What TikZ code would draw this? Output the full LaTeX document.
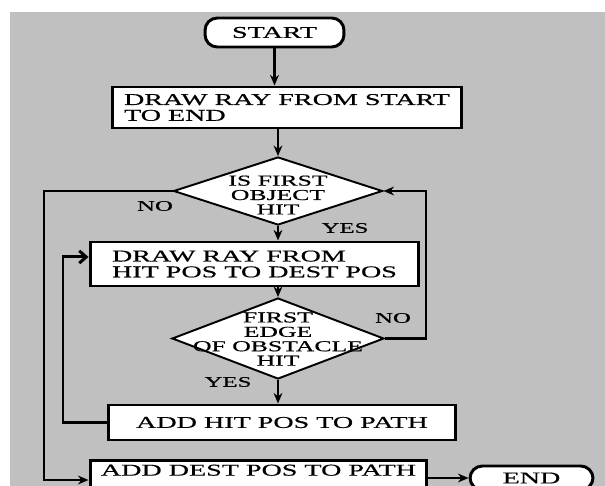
\documentclass[tikz,border=0pt]{standalone}
\usepackage{fontspec}
\newfontfamily\chartfont[FakeStretch=1.7,FakeBold=0.6]{Liberation Serif}
\usetikzlibrary{arrows.meta,shapes.geometric}
\definecolor{bggray}{RGB}{192,192,192}
\tikzset{
  box/.style={draw,line width=1.7pt,fill=white,rectangle,inner sep=0pt,align=left,font=\fontsize{9.4}{9}\chartfont},
  term/.style={box,rounded corners=7pt,align=center},
  dec/.style={draw,line width=1.1pt,fill=white,diamond,inner sep=0pt},
  dectext/.style={inner sep=0pt,align=center,font=\fontsize{8.6}{8.2}\chartfont},
  lab/.style={inner sep=0pt,font=\fontsize{8.3}{9}\chartfont},
  conn/.style={line width=1.7pt,-{Stealth[length=6pt,width=5pt]}},
}
\begin{document}
\begin{tikzpicture}[x=0.02cm,y=-0.02cm]

\useasboundingbox (0,0) rectangle (605,486);
\clip (0,0) rectangle (605,486);
\fill[bggray] (10,12) rectangle (605,486);

\node[term,minimum width=2.78cm,minimum height=0.58cm](start) at (274.5,32.5) {START};

\node[box,minimum width=7cm,minimum height=0.82cm](box1) at (287,107.5) {DRAW RAY FROM START\\TO END};

\node[dec,minimum width=4.18cm,minimum height=1.36cm](d1) at (278,191) {};
\node[dectext](d1t) at (278,195) {IS FIRST\\OBJECT\\HIT};

\node[box,minimum width=6.58cm,minimum height=0.88cm](box2) at (254.5,264) {DRAW RAY FROM\\HIT POS TO DEST POS};

\node[dec,minimum width=4.24cm,minimum height=1.62cm](d2) at (278,338.5) {};
\node[dectext](d2t) at (278,339) {FIRST\\EDGE\\OF OBSTACLE\\HIT};

\node[box,minimum width=6.96cm,minimum height=0.7cm](box3) at (282,422.5) {ADD HIT POS TO PATH};

\node[box,minimum width=6.74cm,minimum height=0.8cm,text height=7pt,text depth=12pt](box5) at (258.5,480) {ADD DEST POS TO PATH};

\node[term,minimum width=2.46cm,minimum height=0.48cm](end) at (531.5,478) {END};

\node[lab](no1) at (155,206) {NO};
\node[lab](yes1) at (345,228) {YES};
\node[lab](no2) at (393,318) {NO};
\node[lab](yes2) at (228,382) {YES};

\coordinate (nol) at (44,300);
\coordinate (nor) at (426,260);
\coordinate (back) at (63,350);

\draw[conn] (start) -- (start |- box1.north);

\foreach \from/\to in {box1.south/d1.north, box2.south/d2.north}
    \draw[conn] (\to |- \from) -- (\to);

\foreach \from/\to in {d1.south/box2.north, d2.south/box3.north}
    \draw[conn] (\from) -- (\from |- \to);

\draw[conn] (d1.west) -| (nol) |- (box5.west);
\draw[conn] (d2.east) -| (nor) |- (d1.east);
\draw[line width=1.7pt,-{Straight Barb[length=4pt,width=7pt]}] (box3.west) -| (back) |- ([yshift=4pt]box2.west);
\draw[conn] (box5.east |- end.west) -- (end.west);

\end{tikzpicture}
\end{document}
